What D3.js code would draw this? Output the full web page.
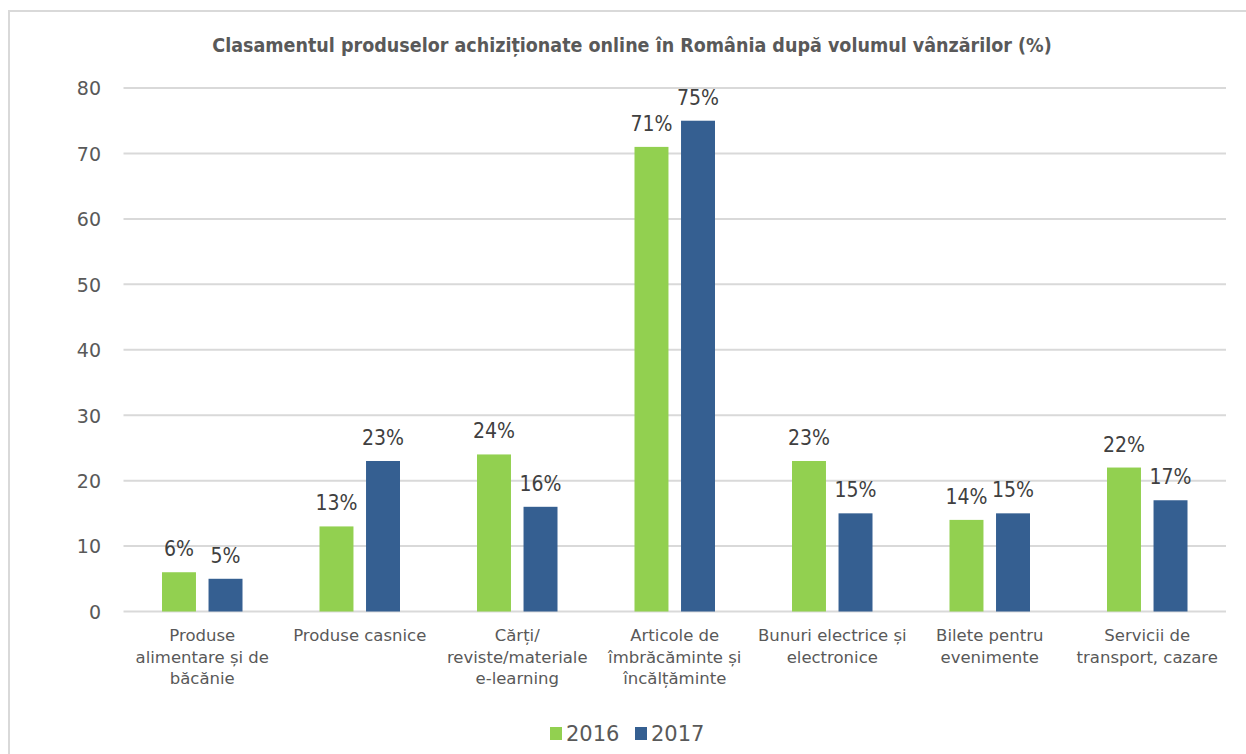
<!DOCTYPE html>
<html>
<head>
<meta charset="utf-8">
<script src="https://cdn.jsdelivr.net/npm/d3@7"></script>
<style>
  html, body { margin: 0; padding: 0; background: #fff; }
  svg { display: block; }
</style>
</head>
<body>
<svg id="chart" width="1246" height="754"></svg>
<script>
// Online purchases in Romania by product category, share of buyers (%)
const chartTitle = "Clasamentul produselor achiziționate online în România după volumul vânzărilor (%)";
const categories = [
  "Produse\nalimentare și de\nbăcănie",
  "Produse casnice",
  "Cărți/\nreviste/materiale\ne-learning",
  "Articole de\nîmbrăcăminte și\nîncălțăminte",
  "Bunuri electrice și\nelectronice",
  "Bilete pentru\nevenimente",
  "Servicii de\ntransport, cazare"
];
const seriesNames = ["2016", "2017"];
const values2016 = [6, 13, 24, 71, 23, 14, 22];
const values2017 = [5, 23, 16, 75, 15, 15, 17];
const yTicks = [0, 10, 20, 30, 40, 50, 60, 70, 80];
const colors = ["#92d050", "#355f91"];

const svg = d3.select("#chart");
const margin = { left: 123.5, right: 1226, top: 88, bottom: 611.5 };

// Outer frame (top and left edges visible)
svg.append("path")
  .attr("d", `M9,760 V11 H1250`)
  .attr("fill", "none")
  .attr("stroke", "#d9d9d9")
  .attr("stroke-width", 2);

const x0 = d3.scaleBand()
  .domain(d3.range(categories.length))
  .range([margin.left, margin.right])
  .paddingInner(0).paddingOuter(0);

const groupWidth = 80.5;
const x1 = d3.scaleBand()
  .domain(seriesNames)
  .range([0, groupWidth])
  .paddingInner(0.27);

const y = d3.scaleLinear().domain([0, 80]).range([margin.bottom, margin.top]);

// Gridlines
svg.append("g")
  .selectAll("line")
  .data(yTicks)
  .join("line")
  .attr("x1", margin.left)
  .attr("x2", margin.right)
  .attr("y1", d => y(d))
  .attr("y2", d => y(d))
  .attr("stroke", "#d9d9d9")
  .attr("stroke-width", 2);

// Y axis labels
const yAxis = d3.axisLeft(y).tickValues(yTicks).tickSize(0).tickPadding(0);
const yG = svg.append("g")
  .attr("transform", `translate(101,0)`)
  .call(yAxis);
yG.select(".domain").remove();
yG.selectAll("text")
  .attr("font-family", "'DejaVu Sans', sans-serif")
  .attr("font-size", 19)
  .attr("fill", "#595959")
  .attr("dy", "0.36em");

// Bars
const seriesData = [values2016, values2017];
const groups = svg.append("g")
  .selectAll("g")
  .data(categories.map((c, i) => i))
  .join("g")
  .attr("transform", i => `translate(${x0(i) + (x0.bandwidth() - groupWidth) / 2},0)`);

groups.selectAll("rect")
  .data(i => seriesNames.map((s, k) => ({ s, k, v: seriesData[k][i] })))
  .join("rect")
  .attr("x", d => x1(d.s))
  .attr("width", x1.bandwidth())
  .attr("y", d => y(d.v))
  .attr("height", d => y(0) - y(d.v))
  .attr("fill", d => colors[d.k]);

// Value labels
groups.selectAll("text")
  .data(i => seriesNames.map((s, k) => ({ s, k, v: seriesData[k][i] })))
  .join("text")
  .attr("x", d => x1(d.s) + x1.bandwidth() / 2)
  .attr("y", d => y(d.v) - 16)
  .attr("text-anchor", "middle")
  .attr("font-family", "'DejaVu Sans Condensed', 'DejaVu Sans', sans-serif")
  .attr("font-stretch", "condensed")
  .attr("font-size", 21)
  .attr("fill", "#404040")
  .text(d => d.v + "%");

// Category labels
const catG = svg.append("g");
categories.forEach((c, i) => {
  const t = catG.append("text")
    .attr("x", x0(i) + x0.bandwidth() / 2)
    .attr("y", 641)
    .attr("text-anchor", "middle")
    .attr("font-family", "'DejaVu Sans', sans-serif")
    .attr("font-size", 16.5)
    .attr("fill", "#595959");
  c.split("\n").forEach((line, j) => {
    t.append("tspan")
      .attr("x", x0(i) + x0.bandwidth() / 2)
      .attr("dy", j === 0 ? 0 : 21.5)
      .text(line);
  });
});

// Title
svg.append("text")
  .attr("x", 632)
  .attr("y", 52)
  .attr("text-anchor", "middle")
  .attr("font-family", "'DejaVu Sans Condensed', 'DejaVu Sans', sans-serif")
  .attr("font-stretch", "condensed")
  .attr("font-weight", "bold")
  .attr("font-size", 19.5)
  .attr("fill", "#595959")
  .text(chartTitle);

// Legend
const legend = svg.append("g");
const legendItems = [{ x: 550 }, { x: 635 }];
seriesNames.forEach((s, k) => {
  const g = legend.append("g").attr("transform", `translate(${legendItems[k].x},0)`);
  g.append("rect").attr("x", 0).attr("y", 727).attr("width", 12).attr("height", 13).attr("fill", colors[k]);
  g.append("text")
    .attr("x", 16)
    .attr("y", 741)
    .attr("font-family", "'DejaVu Sans', sans-serif")
    .attr("font-size", 21)
    .attr("fill", "#595959")
    .text(s);
});
</script>
</body>
</html>
